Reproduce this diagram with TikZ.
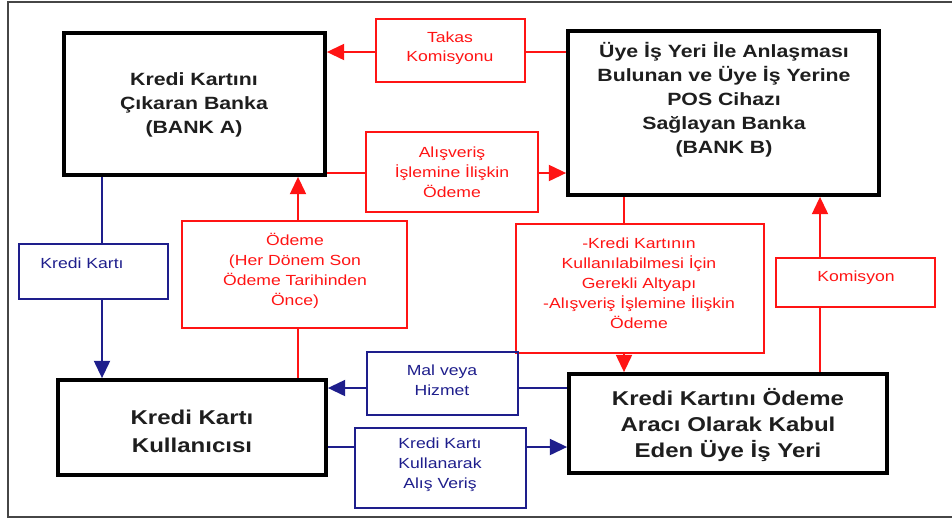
\documentclass[tikz,border=0pt]{standalone}
\usepackage{fontspec}
\setmainfont{Liberation Sans}[FakeStretch=1.2]
\usetikzlibrary{arrows.meta,fit}
\definecolor{frameg}{RGB}{70,70,70}
\definecolor{myred}{RGB}{255,20,20}
\definecolor{mynavy}{RGB}{30,30,140}
\definecolor{mytext}{RGB}{30,30,30}
\tikzset{
  bbox/.style={draw=black, line width=2.8pt, inner sep=0pt, fill=white},
  rbox/.style={draw=myred, line width=1.6pt, inner sep=0pt},
  nbox/.style={draw=mynavy, line width=1.6pt, inner sep=0pt},
  btext/.style={text=mytext, align=center, font={\bfseries\fontsize{13.3pt}{18pt}\selectfont}},
  bigtext/.style={text=mytext, align=center, font={\bfseries\fontsize{15pt}{20pt}\selectfont}},
  rtext/.style={text=myred, align=center, font={\fontsize{11pt}{15pt}\selectfont}},
  ntext/.style={text=mynavy, align=center, font={\fontsize{11pt}{15pt}\selectfont}},
  rline/.style={draw=myred, line width=1.6pt},
  nline/.style={draw=mynavy, line width=1.6pt},
  tip/.style={-{Triangle[length=13pt,width=12pt]}}
}
\begin{document}
\begin{tikzpicture}[x=0.75pt,y=-0.75pt]
\useasboundingbox (0,0) rectangle (952,519);
\draw[frameg, line width=1.1pt] (8,2) rectangle (970,517);
% main boxes
\node[bbox, fit={(64,33) (325,175)}] (A) {};
\node[bbox, fit={(568,31) (879,195)}] (B) {};
\node[bbox, fit={(58,380) (326,475)}] (U) {};
\node[bbox, fit={(569,374) (887,473)}] (M) {};
% label boxes
\node[rbox, fit={(376,19) (525,82)}] (tk) {};
\node[rbox, fit={(366,132) (538,212)}] (al) {};
\node[nbox, fit={(19,244) (168,299)}] (kk) {};
\node[rbox, fit={(182,221) (407,328)}] (od) {};
\node[rbox, fit={(516,224) (764,353)}] (alt) {};
\node[rbox, fit={(776,258) (935,307)}] (kom) {};
\node[nbox, fit={(367,352) (518,415)}] (mal) {};
\node[nbox, fit={(355,428) (526,508)}] (kka) {};
% texts
\node[btext] (tA) at (194,105) {Kredi Kartını\\Çıkaran Banka\\(BANK A)};
\node[btext] (tB) at (724,100) {Üye İş Yeri İle Anlaşması\\Bulunan ve Üye İş Yerine\\POS Cihazı\\Sağlayan Banka\\(BANK B)};
\node[bigtext, font={\bfseries\fontsize{15pt}{21pt}\selectfont}] (tU) at (192,431) {Kredi Kartı\\Kullanıcısı};
\node[bigtext, font={\bfseries\fontsize{15pt}{19.5pt}\selectfont}] (tM) at (728,425) {Kredi Kartını Ödeme\\Aracı Olarak Kabul\\Eden Üye İş Yeri};
\node[rtext, font={\fontsize{11pt}{14.3pt}\selectfont}] (ttk) at (450,48) {Takas\\Komisyonu};
\node[rtext] (tal) at (452,172) {Alışveriş\\İşlemine İlişkin\\Ödeme};
\node[ntext] (tkk) at (82,263) {Kredi Kartı};
\node[rtext] (tod) at (295,271) {Ödeme\\(Her Dönem Son\\Ödeme Tarihinden\\Önce)};
\node[rtext] (talt) at (639,283) {-Kredi Kartının\\Kullanılabilmesi İçin\\Gerekli Altyapı\\-Alışveriş İşlemine İlişkin\\Ödeme};
\node[rtext] (tkom) at (856,278) {Komisyon};
\node[ntext] (tmal) at (442,380) {Mal veya\\Hizmet};
\node[ntext] (tkka) at (440,465) {Kredi Kartı\\Kullanarak\\Alış Veriş};
% connectors
\draw[rline] (B.west |- 0,52) -- (tk.east |- 0,52);
\draw[rline, tip] (tk.west |- 0,52) -- (A.east |- 0,52);
\draw[rline] (A.east |- 0,173) -- (al.west |- 0,173);
\draw[rline, tip] (al.east |- 0,173) -- (B.west |- 0,173);
\draw[nline] (A.south -| 102,0) -- (kk.north -| 102,0);
\draw[nline, tip] (kk.south -| 102,0) -- (U.north -| 102,0);
\draw[rline] (U.north -| 298,0) -- (od.south -| 298,0);
\draw[rline, tip] (od.north -| 298,0) -- (A.south -| 298,0);
\draw[nline] (M.west |- 0,388) -- (mal.east |- 0,388);
\draw[nline, tip] (mal.west |- 0,388) -- (U.east |- 0,388);
\draw[nline] (U.east |- 0,447) -- (kka.west |- 0,447);
\draw[nline, tip] (kka.east |- 0,447) -- (M.west |- 0,447);
\draw[rline] (B.south -| 624,0) -- (alt.north -| 624,0);
\draw[rline, tip] (alt.south -| 624,0) -- (M.north -| 624,0);
\draw[rline] (M.north -| 820,0) -- (kom.south -| 820,0);
\draw[rline, tip] (kom.north -| 820,0) -- (B.south -| 820,0);
\end{tikzpicture}
\end{document}
